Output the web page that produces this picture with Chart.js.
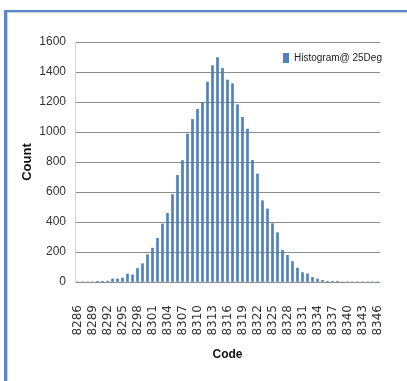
<!DOCTYPE html>
<html lang="en">
<head>
    <meta charset="UTF-8">
    <title>Histogram@ 25Deg</title>
    <script src="https://cdn.jsdelivr.net/npm/chart.js"></script>
    <style>
        body { margin: 0; background: #fff; }
        #wrap { position: relative; width: 407px; height: 381px; }
        #frame {
            position: absolute; left: 4px; top: 10px; right: 0; bottom: 0;
            border-top: 2px solid #5b87c6; border-left: 3px solid #5b87c6;
            box-shadow: inset 1px 1px 0 #c9d3e0;
            pointer-events: none;
        }
    </style>
</head>
<body>
<div id="wrap">
    <canvas id="histChart" width="407" height="381"></canvas>
    <div id="frame"></div>
</div>

<script>
    // codes (x categories)
    const codes = [
        8286, 8287, 8288, 8289, 8290, 8291, 8292, 8293, 8294, 8295,
        8296, 8297, 8298, 8299, 8300, 8301, 8302, 8303, 8304, 8305,
        8306, 8307, 8308, 8309, 8310, 8311, 8312, 8313, 8314, 8315,
        8316, 8317, 8318, 8319, 8320, 8321, 8322, 8323, 8324, 8325,
        8326, 8327, 8328, 8329, 8330, 8331, 8332, 8333, 8334, 8335,
        8336, 8337, 8338, 8339, 8340, 8341, 8342, 8343, 8344, 8345,
        8346
    ];

    // counts
    const counts = [
        0, 0, 0, 0, 5, 5, 6, 20, 21, 27,
        53, 47, 90, 122, 182, 226, 291, 387, 458, 583,
        711, 810, 987, 1084, 1151, 1198, 1333, 1442, 1496, 1424,
        1347, 1322, 1182, 1098, 1020, 811, 720, 542, 487, 389,
        329, 211, 178, 136, 93, 63, 54, 31, 20, 11,
        5, 5, 5, 0, 0, 0, 0, 0, 0, 0,
        0
    ];

    const seriesName = 'Histogram@ 25Deg';
    const labelEvery = 3;   // one tick label every 3 codes

    // put the legend inside the plot, top right
    const legendInside = {
        id: 'legendInside',
        afterLayout(chart) {
            const lg = chart.legend;
            lg.left = 273;
            lg.right = 407;
            lg.top = 43;
            lg.bottom = 80;
        }
    };

    const ctx = document.getElementById('histChart').getContext('2d');
    new Chart(ctx, {
        type: 'bar',
        data: {
            labels: codes,
            datasets: [{
                label: seriesName,
                data: counts,
                backgroundColor: '#4f81bd',
                barThickness: 2
            }]
        },
        options: {
            responsive: false,
            animation: false,
            layout: { padding: { left: 0, top: 42, right: 14, bottom: 0 } },
            plugins: {
                tooltip: { enabled: false },
                legend: {
                    position: 'chartArea',
                    align: 'start',
                    labels: {
                        boxWidth: 6,
                        boxHeight: 10,
                        padding: 10,
                        color: '#222',
                        font: { family: "'Liberation Sans', Arial, sans-serif", size: 10 }
                    }
                }
            },
            scales: {
                x: {
                    grid: { display: false },
                    border: { display: false },
                    afterFit: s => { s.height = 99; },
                    ticks: {
                        autoSkip: false,
                        minRotation: 90,
                        maxRotation: 90,
                        padding: 15,
                        color: '#333',
                        font: { family: "'DejaVu Sans', sans-serif", size: 12 },
                        callback: (v, i) => (i % labelEvery === 0 ? String(codes[i]) : '')
                    },
                    title: {
                        display: true,
                        text: 'Code',
                        color: '#111',
                        padding: { top: 0, bottom: 19 },
                        font: { family: "'Liberation Sans', Arial, sans-serif", size: 12, weight: 'bold' }
                    }
                },
                y: {
                    min: 0,
                    max: 1600,
                    afterFit: s => { s.width = 75; },
                    grid: { color: '#8c8c8c', drawTicks: false },
                    border: { display: true, color: '#d4d4d4' },
                    ticks: {
                        stepSize: 200,
                        padding: 9,
                        color: '#333',
                        font: { family: "'Liberation Sans', Arial, sans-serif", size: 12 },
                        callback: v => String(v)
                    },
                    title: {
                        display: true,
                        text: 'Count',
                        color: '#111',
                        padding: { top: 20, bottom: 0 },
                        font: { family: "'Liberation Sans', Arial, sans-serif", size: 13, weight: 'bold' }
                    }
                }
            }
        },
        plugins: [legendInside]
    });
</script>
</body>
</html>
